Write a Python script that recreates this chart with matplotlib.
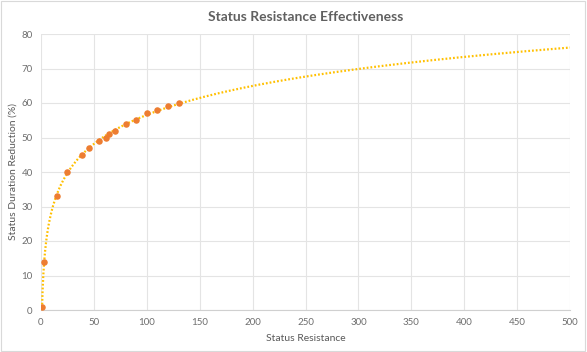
import numpy as np
import matplotlib
matplotlib.use("Agg")
import matplotlib.pyplot as plt

# data
resistance = [1, 3, 15, 25, 39, 45, 55, 61, 64, 70, 80, 90, 100, 110, 120, 130]
reduction = [1, 14, 33, 40, 45, 47, 49, 50, 51, 52, 54, 55, 57, 58, 59, 60]

x_ticks = list(range(0, 501, 50))
y_ticks = list(range(0, 81, 10))

plt.rcParams['font.family'] = ['Lato', 'DejaVu Sans']

fig = plt.figure(figsize=(5.87, 3.52), dpi=100)
ax = fig.add_axes([41 / 587, 1 - 310 / 352, (570 - 41) / 587, (310 - 34) / 352])

# logarithmic trend line, like Excel's
a, b = np.polyfit(np.log(resistance), reduction, 1)
xs = np.linspace(0.9, 500, 2000)
ax.plot(xs, a * np.log(xs) + b, color='#FFC000', lw=1.6, ls=(0, (0.8, 0.9)), zorder=2)

ax.scatter(resistance, reduction, s=22, color='#ED7D31', zorder=3, linewidths=0)

ax.set_xlim(0, 500)
ax.set_ylim(0, 80)
ax.set_xticks(x_ticks)
ax.set_yticks(y_ticks)
ax.grid(True, color='#E4E4E4', lw=0.8)
ax.set_axisbelow(True)
for side in ['top', 'right', 'left']:
    ax.spines[side].set_visible(False)
ax.spines['bottom'].set_color('#D0D0D0')
ax.tick_params(length=0, labelsize=7, colors='#6E6E6E', pad=6)

ax.set_xlabel('Status Resistance', fontsize=7.5, color='#595959')
ax.set_ylabel('Status Duration Reduction (%)', fontsize=7.5, color='#595959')
ax.xaxis.set_label_coords(0.5, -0.087)
ax.yaxis.set_label_coords(-0.044, 0.5)
fig.text(0.52, 1 - 17 / 352, 'Status Resistance Effectiveness', ha='center', va='center',
         fontsize=10, fontweight='bold', color='#606060')

# light outer frame
fig.patches.append(plt.Rectangle((0.002, 0.004), 0.995, 0.993, transform=fig.transFigure,
                                 fill=False, edgecolor='#D9D9D9', lw=0.8))

fig.savefig('out.png', dpi=100)
